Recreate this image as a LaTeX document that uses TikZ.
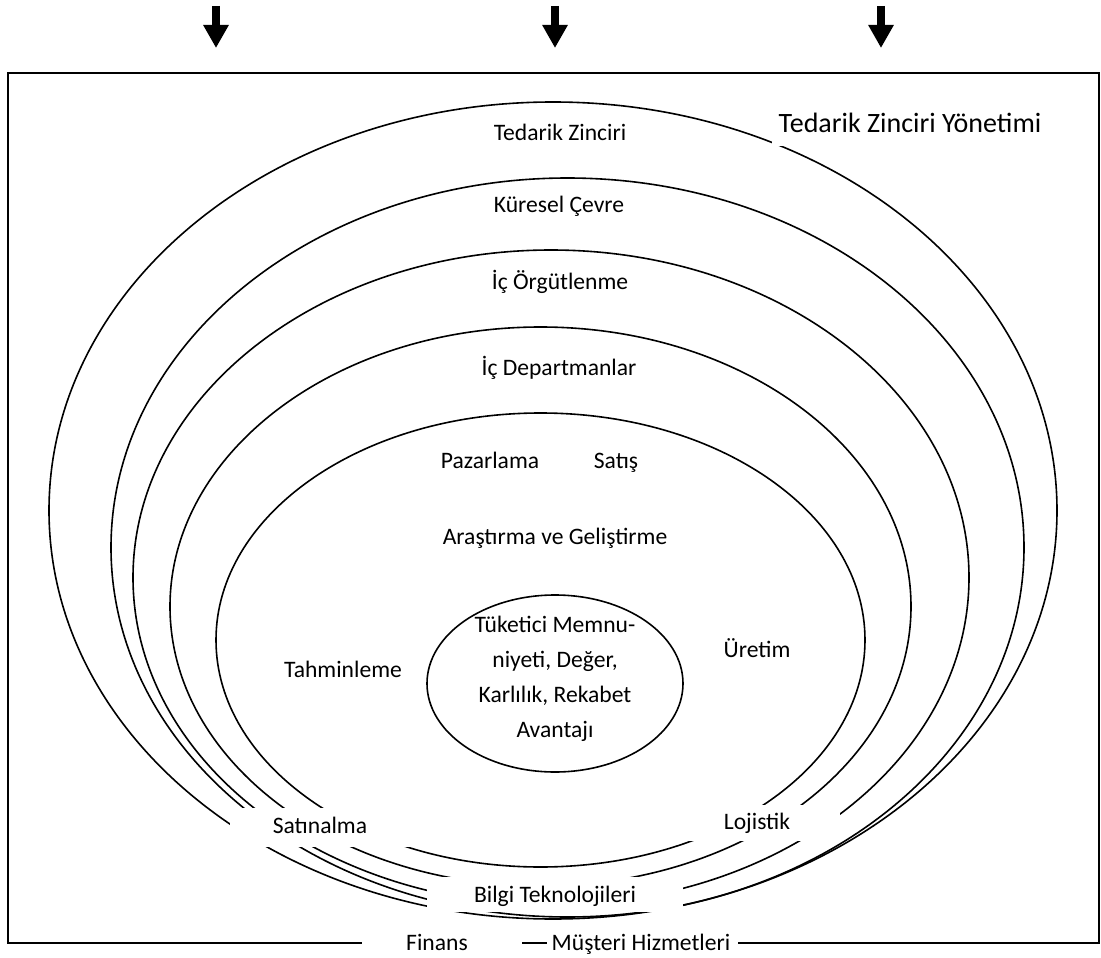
\documentclass[tikz,border=0pt]{standalone}
\usepackage{fontspec}
\setmainfont{Carlito}
\usetikzlibrary{arrows.meta}
\begin{document}
\begin{tikzpicture}[x=1pt,y=-1pt,
  ring/.style={line width=1.6pt},
  txt/.style={font=\fontsize{23.6}{35}\selectfont, inner sep=0pt, align=center},
  lbl/.style={txt, text height=20pt, text depth=4.8pt},
  bigtitle/.style={font=\fontsize{28}{34}\selectfont, inner sep=0pt, text height=23.5pt, text depth=5.5pt},
  gapfill/.style={fill=white},
  downarrow/.style={line width=8pt, -{Triangle[length=23pt,width=24pt]}},
  frame/.style={line width=2pt}]
\useasboundingbox (0,0) rectangle (1101,958);

% three input arrows above the frame
\coordinate (a1s) at (216,6);  \coordinate (a1e) at (216,48);
\coordinate (a2s) at (555,6);  \coordinate (a2e) at (555,48);
\coordinate (a3s) at (881,6);  \coordinate (a3e) at (881,48);
\draw[downarrow] (a1s) -- (a1e);
\draw[downarrow] (a2s) -- (a2e);
\draw[downarrow] (a3s) -- (a3e);

% outer frame
\draw[frame] (8,73) rectangle (1099,943);

% nested rings
\draw[ring] (553,510.5) ellipse [x radius=504pt, y radius=408.5pt];
\draw[ring] (567.5,547.5) ellipse [x radius=456.5pt, y radius=369.5pt];
\draw[ring] (551,577.5) ellipse [x radius=418pt, y radius=327.5pt];
\draw[ring] (540.5,606.5) ellipse [x radius=370.5pt, y radius=279.5pt];
\draw[ring] (540.5,640) ellipse [x radius=324.5pt, y radius=227pt];
\draw[ring] (555,683.5) ellipse [x radius=128pt, y radius=88.5pt];

% white label backgrounds that open gaps in the rings and the frame
\fill[gapfill] (772,100) rectangle (1050,146);
\fill[gapfill] (230,808) rectangle (410,847);
\fill[gapfill] (680,805) rectangle (840,841);
\fill[gapfill] (427,877) rectangle (683,912);
\fill[gapfill] (362,922) rectangle (522,958);
\fill[gapfill] (547,922) rectangle (738,958);

% labels
\node[bigtitle] (tzy) at (910,123) {Tedarik Zinciri Yönetimi};
\node[lbl] (tz) at (560,133) {Tedarik Zinciri};
\node[lbl] (kc) at (559,205) {Küresel Çevre};
\node[lbl] (io) at (560,282) {İç Örgütlenme};
\node[lbl] (id) at (559,368) {İç Departmanlar};
\node[lbl] (paz) at (490,461) {Pazarlama};
\node[lbl] (sat) at (616,461) {Satış};
\node[lbl] (arge) at (555,537) {Araştırma ve Geliştirme};
\node[lbl] (tah) at (343,670) {Tahminleme};
\node[lbl] (ure) at (757,650) {Üretim};
\node[txt] (core) at (555,679) {Tüketici Memnu-\\niyeti, Değer,\\Karlılık, Rekabet\\Avantajı};
\node[lbl] (satin) at (320,826) {Satınalma};
\node[lbl] (loj) at (757,822) {Lojistik};
\node[lbl] (bt) at (555,895) {Bilgi Teknolojileri};
\node[lbl] (fin) at (437,943) {Finans};
\node[lbl] (mh) at (641,943) {Müşteri Hizmetleri};
\end{tikzpicture}
\end{document}
